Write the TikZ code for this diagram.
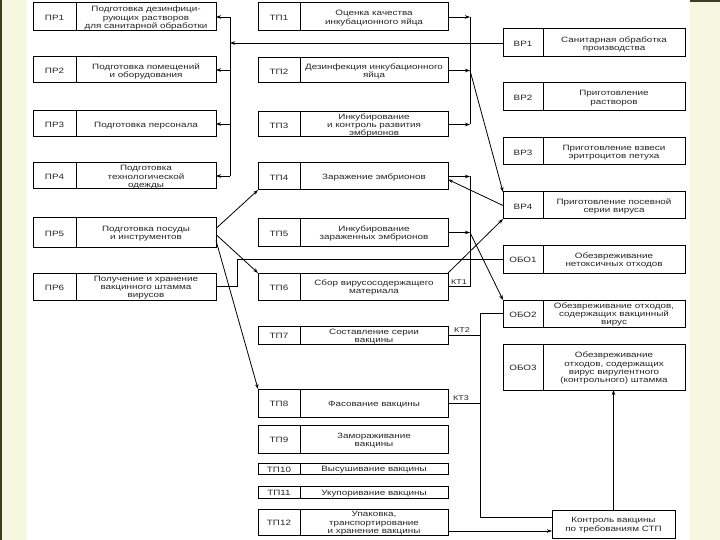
\documentclass[tikz,border=0pt]{standalone}
\usepackage{fontspec}
\setmainfont{Liberation Sans}[FakeStretch=1.28]
\usetikzlibrary{arrows.meta}
\definecolor{paleside}{HTML}{F5F7E1}
\definecolor{darkside}{HTML}{3A3F22}
\tikzset{
  boxpart/.style={draw=black, line width=1pt, inner sep=0pt, outer sep=0pt},
  boxtext/.style={inner sep=0pt, align=center, font=\fontsize{7.7}{8.2}\selectfont, text=black!85},
  conn/.style={draw=black, line width=0.8pt},
  arr/.style={conn, -{Stealth[length=5pt,width=3.5pt]}},
  ktlabel/.style={font=\fontsize{7}{8}\selectfont, text=black!85, inner sep=0pt}
}
% name, x1, xdiv, x2, y1, y2, label, text
\newcommand\twobox[8]{%
  \node[boxpart, minimum width={#3-#2}, minimum height={#6-#5}] (#1l) at ({(#2+#3)/2},{(#5+#6)/2}) {};
  \node[boxpart, minimum width={#4-#3}, minimum height={#6-#5}] (#1) at ({(#3+#4)/2},{(#5+#6)/2}) {};
  \node[boxtext, yshift=-1.2pt] (#1lt) at (#1l.center) {#7};
  \node[boxtext, yshift=-1.2pt] (#1t) at (#1.center) {#8};
}
\begin{document}
\begin{tikzpicture}[x=1pt,y=-1pt]
\fill[paleside] (0,0) rectangle (720,540);
\fill[white] (27,0) rectangle (690,540);
\fill[darkside] (0,0) rectangle (2,540);
\fill[darkside] (690,0) rectangle (720,2);
\useasboundingbox (0,0) rectangle (720,540);

% left column
\twobox{pr1}{33}{76}{216}{3}{31}{ПР1}{Подготовка дезинфици-\\рующих растворов\\для санитарной обработки}
\twobox{pr2}{33}{76}{216}{57}{83}{ПР2}{Подготовка помещений\\и оборудования}
\twobox{pr3}{33}{76}{216}{111}{137}{ПР3}{Подготовка персонала}
\twobox{pr4}{33}{76}{216}{163}{189}{ПР4}{Подготовка\\технологической\\одежды}
\twobox{pr5}{33}{76}{216}{218}{247}{ПР5}{Подготовка посуды\\и инструментов}
\twobox{pr6}{33}{76}{216}{273}{300}{ПР6}{Получение и хранение\\вакцинного штамма\\вирусов}

% middle column
\twobox{tp1}{258}{300}{448}{3}{31}{ТП1}{Оценка качества\\инкубационного яйца}
\twobox{tp2}{258}{300}{448}{58}{83}{ТП2}{Дезинфекция инкубационного\\яйца}
\twobox{tp3}{258}{300}{448}{112}{137}{ТП3}{Инкубирование\\и контроль развития\\эмбрионов}
\twobox{tp4}{258}{300}{448}{163}{190}{ТП4}{Заражение эмбрионов}
\twobox{tp5}{258}{300}{448}{219}{246}{ТП5}{Инкубирование\\зараженных эмбрионов}
\twobox{tp6}{258}{300}{448}{273}{300}{ТП6}{Сбор вирусосодержащего\\материала}
\twobox{tp7}{258}{300}{448}{326}{344}{ТП7}{Составление серии\\вакцины}
\twobox{tp8}{258}{300}{448}{389}{417}{ТП8}{Фасование вакцины}
\twobox{tp9}{258}{300}{448}{425}{453}{ТП9}{Замораживание\\вакцины}
\twobox{tp10}{258}{300}{448}{463}{474}{ТП10}{Высушивание вакцины}
\twobox{tp11}{258}{300}{448}{486}{498}{ТП11}{Укупоривание вакцины}
\twobox{tp12}{258}{300}{448}{509}{535}{ТП12}{Упаковка,\\транспортирование\\и хранение вакцины}

% right column
\twobox{vr1}{503}{543}{685}{29}{57}{ВР1}{Санитарная обработка\\производства}
\twobox{vr2}{503}{543}{685}{83}{111}{ВР2}{Приготовление\\растворов}
\twobox{vr3}{503}{543}{685}{138}{165}{ВР3}{Приготовление взвеси\\эритроцитов петуха}
\twobox{vr4}{503}{543}{685}{192}{219}{ВР4}{Приготовление посевной\\серии вируса}
\twobox{obo1}{503}{543}{685}{245}{273}{ОБО1}{Обезвреживание\\нетоксичных отходов}
\twobox{obo2}{503}{543}{685}{300}{327}{ОБО2}{Обезвреживание отходов,\\содержащих вакцинный\\вирус}
\twobox{obo3}{503}{543}{685}{344}{390}{ОБО3}{Обезвреживание\\отходов, содержащих\\вирус вирулентного\\(контрольного) штамма}
\node[boxpart, minimum width=123, minimum height=28] (ctrl) at (613.5,524) {};
\node[boxtext, yshift=-1.2pt] (ctrlt) at (ctrl.center) {Контроль вакцины\\по требованиям СТП};

% bus coordinates
\coordinate (pbus) at (230,0);
\coordinate (tbus) at (470,0);
\coordinate (kbus) at (480,0);
\coordinate (p6a) at (237,259);
\coordinate (kb) at (480,517);

% PR bus fed by VR1
\draw[conn] (pr1.east -| pbus) -- (pr4.east -| pbus);
\foreach \n in {pr1,pr2,pr3,pr4} \draw[arr] (\n.east -| pbus) -- (\n.east);
\draw[arr] (vr1l.west) -- (vr1l.west -| pbus);

% TP1-TP3 bus
\draw[conn] (tp1.east -| tbus) -- (tp3.east -| tbus);
\foreach \n in {tp1,tp2,tp3} \draw[arr] (\n.east) -- (\n.east -| tbus);
\draw[arr] (tp2.east -| tbus) -- (vr4l.north west);

% TP4-TP6 bus
\draw[conn] (tp4.east -| tbus) -- (tp6.east -| tbus);
\foreach \n in {tp4,tp5} \draw[arr] (\n.east) -- (\n.east -| tbus);
\draw[conn] (tp6.east) -- (tp6.east -| tbus);
\node[ktlabel, anchor=south] (kt1) at (459,284.5) {КТ1};
\draw[arr] (tp5.east -| tbus) -- (obo2l.north west);
\draw[arr] (tp6.north east) -- (vr4l.south west);
\draw[arr] (vr4l.west) -- ([yshift=-3pt]tp4.east);

% PR5 outputs
\draw[arr] ([yshift=4pt]pr5.east) -- (tp4l.south west);
\draw[arr] ([yshift=-2pt]pr5.east) -- (tp6l.north west);
\draw[arr] ([yshift=-8pt]pr5.east) -- (tp8l.north west);

% PR6 to OBO1
\draw[conn] (pr6.east) -| (p6a) -- (obo1l.west);

% KT2 / KT3 bus
\draw[conn] (obo2l.west) -| (kb) -- (kb -| ctrl.west);
\draw[conn] (tp7.east) -- (tp7.east -| kbus);
\draw[conn] (tp8.east) -- (tp8.east -| kbus);
\node[ktlabel, anchor=south] (kt2) at (462,333) {КТ2};
\node[ktlabel, anchor=south] (kt3) at (461,401) {КТ3};

% TP12 to control, control to OBO3
\draw[arr] ([yshift=-9pt]tp12.east) -- ([yshift=-9pt]tp12.east -| ctrl.west);
\draw[arr] (ctrl.north) -- (ctrl.north |- obo3.south);
\end{tikzpicture}
\end{document}
